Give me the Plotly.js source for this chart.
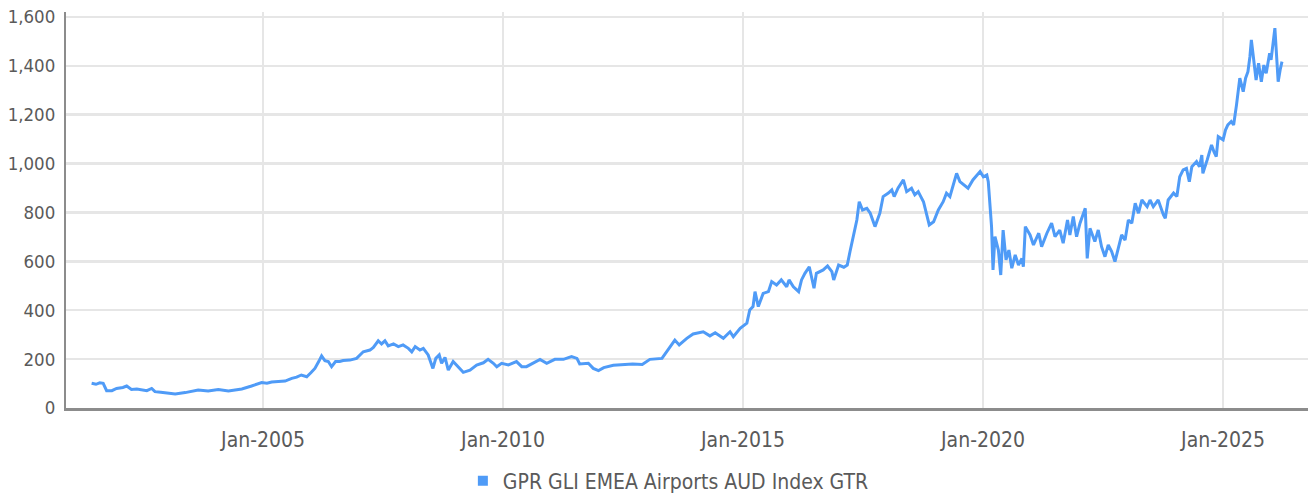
<!DOCTYPE html>
<html>
<head>
<meta charset="utf-8">
<script src="https://cdn.plot.ly/plotly-3.0.1.min.js"></script>
<style>
  html, body { margin: 0; padding: 0; background: #ffffff; }
  #chart { width: 1308px; height: 495px; }
</style>
</head>
<body>
<div id="chart"></div>
<script>
// Decimal-year positions
const yearPos = [
  2001.43, 2001.52, 2001.6, 2001.67, 2001.74, 2001.85, 2001.95, 2002.08, 2002.16, 2002.26,
  2002.37, 2002.47, 2002.58, 2002.68, 2002.75, 2002.87, 2002.99, 2003.17, 2003.38, 2003.52,
  2003.65, 2003.86, 2004.07, 2004.28, 2004.45, 2004.56, 2004.76, 2004.97, 2005.08, 2005.18,
  2005.32, 2005.46, 2005.6, 2005.7, 2005.8, 2005.91, 2006.0, 2006.08, 2006.16, 2006.22,
  2006.29, 2006.36, 2006.43, 2006.51, 2006.6, 2006.67, 2006.81, 2006.95, 2007.09, 2007.23,
  2007.3, 2007.4, 2007.47, 2007.54, 2007.61, 2007.72, 2007.82, 2007.92, 2008.03, 2008.1,
  2008.17, 2008.27, 2008.34, 2008.44, 2008.54, 2008.6, 2008.67, 2008.72, 2008.79, 2008.86,
  2008.96, 2009.07, 2009.17, 2009.31, 2009.45, 2009.59, 2009.69, 2009.8, 2009.87, 2009.97,
  2010.11, 2010.28, 2010.39, 2010.49, 2010.63, 2010.77, 2010.91, 2011.08, 2011.26, 2011.43,
  2011.54, 2011.6, 2011.78, 2011.88, 2011.99, 2012.1, 2012.3, 2012.5, 2012.7, 2012.9,
  2013.06, 2013.31, 2013.48, 2013.58, 2013.67, 2013.83, 2013.96, 2014.17, 2014.31, 2014.42,
  2014.59, 2014.73, 2014.8, 2014.94, 2015.08, 2015.14, 2015.21, 2015.25, 2015.32, 2015.42,
  2015.53, 2015.6, 2015.7, 2015.8, 2015.91, 2015.96, 2016.05, 2016.16, 2016.22, 2016.29,
  2016.38, 2016.43, 2016.48, 2016.53, 2016.67, 2016.76, 2016.85, 2016.89, 2016.99, 2017.1,
  2017.17, 2017.23, 2017.3, 2017.37, 2017.42, 2017.49, 2017.58, 2017.65, 2017.75, 2017.85,
  2017.92, 2018.03, 2018.1, 2018.15, 2018.23, 2018.34, 2018.41, 2018.51, 2018.58, 2018.65,
  2018.76, 2018.88, 2018.97, 2019.07, 2019.17, 2019.24, 2019.31, 2019.45, 2019.52, 2019.62,
  2019.69, 2019.79, 2019.94, 2020.01, 2020.08, 2020.11, 2020.18, 2020.21, 2020.25, 2020.32,
  2020.37, 2020.42, 2020.48, 2020.54, 2020.6, 2020.67, 2020.74, 2020.81, 2020.84, 2020.88,
  2020.98, 2021.05, 2021.16, 2021.22, 2021.33, 2021.43, 2021.5, 2021.6, 2021.67, 2021.76,
  2021.81, 2021.88, 2021.95, 2022.02, 2022.13, 2022.17, 2022.23, 2022.33, 2022.4, 2022.47,
  2022.54, 2022.61, 2022.68, 2022.75, 2022.82, 2022.89, 2022.96, 2023.03, 2023.1, 2023.17,
  2023.24, 2023.31, 2023.42, 2023.48, 2023.55, 2023.65, 2023.76, 2023.8, 2023.86, 2023.97,
  2024.04, 2024.1, 2024.17, 2024.24, 2024.3, 2024.35, 2024.45, 2024.51, 2024.56, 2024.58,
  2024.67, 2024.76, 2024.81, 2024.86, 2024.9, 2025.0, 2025.05, 2025.1, 2025.17, 2025.22,
  2025.28, 2025.35, 2025.42, 2025.47, 2025.52, 2025.56, 2025.59, 2025.65, 2025.69, 2025.74,
  2025.8, 2025.85, 2025.9, 2025.97, 2026.0, 2026.08, 2026.11, 2026.15, 2026.19, 2026.23
];

// Index values
const indexValues = [
  101, 97, 103, 101, 71, 71, 80, 84, 90, 76,
  78, 76, 71, 80, 67, 64, 60, 57, 63, 68,
  74, 70, 76, 70, 74, 78, 90, 104, 101, 106,
  108, 110, 121, 126, 135, 128, 145, 162, 190, 213,
  194, 190, 169, 190, 190, 194, 196, 203, 230, 237,
  248, 275, 262, 275, 254, 262, 251, 258, 244, 230,
  251, 237, 244, 217, 162, 203, 217, 183, 207, 155,
  190, 169, 146, 155, 176, 185, 199, 183, 169, 183,
  176, 190, 169, 169, 185, 199, 183, 199, 199, 210,
  203, 180, 183, 162, 153, 165, 175, 178, 180, 178,
  199, 203, 251, 278, 258, 285, 303, 312, 295, 308,
  285, 312, 292, 326, 347, 401, 415, 476, 415, 469,
  476, 517, 503, 524, 496, 524, 496, 476, 524, 551,
  578, 531, 490, 551, 565, 581, 558, 524, 585, 576,
  585, 640, 701, 769, 844, 810, 817, 797, 742, 797,
  865, 879, 892, 865, 899, 933, 885, 899, 872, 885,
  844, 749, 762, 810, 844, 879, 865, 960, 926, 912,
  899, 933, 967, 946, 953, 926, 742, 565, 701, 646,
  544, 728, 606, 646, 572, 626, 585, 612, 578, 742,
  708, 667, 715, 660, 715, 756, 701, 728, 674, 769,
  708, 783, 701, 756, 817, 612, 735, 681, 728, 660,
  619, 667, 640, 599, 653, 708, 687, 769, 756, 838,
  797, 851, 824, 851, 824, 851, 790, 776, 851, 879,
  865, 946, 974, 980, 926, 987, 1008, 987, 1035, 960,
  1015, 1076, 1049, 1028, 1110, 1097, 1137, 1158, 1172, 1158,
  1240, 1349, 1294, 1349, 1376, 1437, 1506, 1410, 1342, 1410,
  1335, 1403, 1369, 1451, 1424, 1554, 1451, 1335, 1383, 1417
];

const seriesName = 'GPR GLI EMEA Airports AUD Index GTR';
const yTicks = [0, 200, 400, 600, 800, 1000, 1200, 1400, 1600];

function toDate(d) {
  const y = Math.floor(d);
  const s = Date.UTC(y, 0, 1), e = Date.UTC(y + 1, 0, 1);
  return new Date(s + (d - y) * (e - s)).toISOString().slice(0, 10);
}

const xDates = yearPos.map(toDate);
const FONT = '"DejaVu Sans Condensed", "Liberation Sans Narrow", sans-serif';
const LINE = '#4f9bf7';
const TXT = '#5a5a5a';

const traces = [
  {
    x: xDates, y: indexValues, type: 'scatter', mode: 'lines',
    line: { color: LINE, width: 3 }, showlegend: false, hoverinfo: 'x+y'
  },
  {
    x: [null], y: [null], type: 'scatter', mode: 'markers', name: seriesName,
    marker: { symbol: 'square', size: 10, color: LINE }, showlegend: true
  }
];

const layout = {
  width: 1308, height: 495,
  margin: { l: 66, r: 0, t: 12, b: 87 },
  paper_bgcolor: '#ffffff', plot_bgcolor: '#ffffff',
  font: { family: FONT, size: 20, color: TXT },
  xaxis: {
    type: 'date',
    range: [toDate(2000.896), toDate(2026.77)],
    tick0: '2005-01-01', dtick: 'M60', tickformat: '%b-%Y',
    showgrid: true, gridcolor: '#e6e6e6', gridwidth: 2.5,
    showline: true, linecolor: '#8c8c8c', linewidth: 3,
    ticks: 'outside', ticklen: 11, tickcolor: 'rgba(0,0,0,0)',
    tickfont: { family: FONT, size: 21, color: TXT },
    zeroline: false, fixedrange: true, automargin: false
  },
  yaxis: {
    range: [0, 1620],
    tickvals: yTicks, ticktext: yTicks.map(v => v.toLocaleString('en-US')),
    showgrid: true, gridcolor: '#e6e6e6', gridwidth: 2.5,
    showline: true, linecolor: '#8c8c8c', linewidth: 2,
    ticks: 'outside', ticklen: 5, tickcolor: 'rgba(0,0,0,0)',
    tickfont: { family: FONT, size: 18.5, color: TXT },
    zeroline: false, fixedrange: true, automargin: false
  },
  showlegend: true,
  legend: {
    orientation: 'h', x: 0.485, xanchor: 'center',
    yref: 'container', y: 0.028, yanchor: 'middle',
    font: { family: FONT, size: 21, color: TXT },
    bgcolor: 'rgba(0,0,0,0)', itemwidth: 30
  }
};

Plotly.newPlot('chart', traces, layout, { displayModeBar: false, staticPlot: true });
</script>
</body>
</html>
